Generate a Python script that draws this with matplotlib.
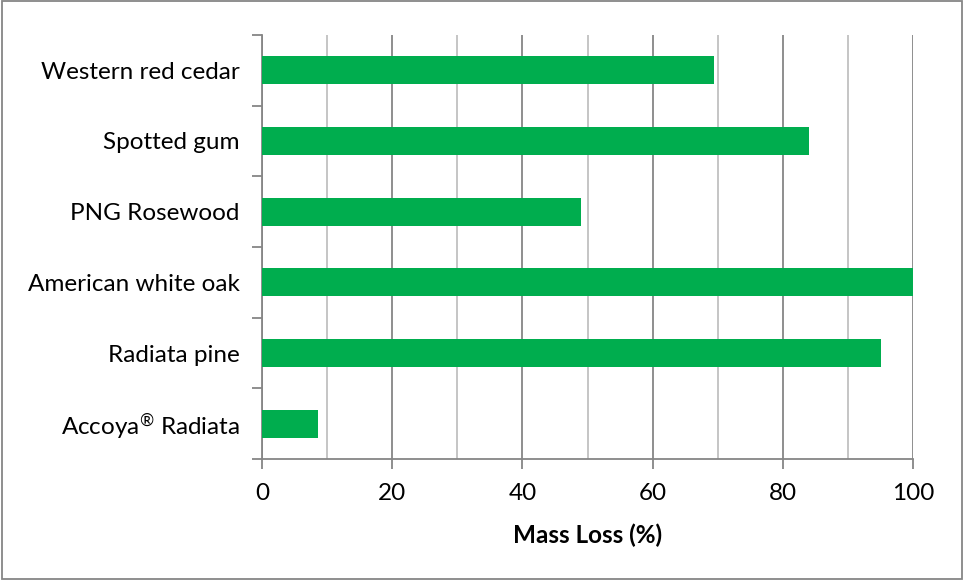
import matplotlib.pyplot as plt
from matplotlib.patches import Rectangle
from matplotlib.ticker import MultipleLocator

species = ["Western red cedar", "Spotted gum", "PNG Rosewood",
           "American white oak", "Radiata pine", "Accoya$^{\u00ae}$ Radiata"]
mass_loss = [69.4, 84.0, 49.0, 100.0, 95.1, 8.6]

plt.rcParams['font.family'] = ['Lato', 'DejaVu Sans']
plt.rcParams['mathtext.fontset'] = 'custom'
plt.rcParams['mathtext.rm'] = 'Lato'
plt.rcParams['mathtext.it'] = 'Lato'
plt.rcParams['mathtext.default'] = 'regular'

fig = plt.figure(figsize=(9.64, 5.8), dpi=100)
ax = fig.add_axes([0.2718, 0.2086, 0.6753, 0.7311])

pos = list(range(len(species)))[::-1]
ax.barh(pos, mass_loss, height=0.4, color="#00AD4E", zorder=3)

ax.set_xlim(0, 100)
ax.set_ylim(-0.5, len(species) - 0.5)
ax.xaxis.set_major_locator(MultipleLocator(20))
ax.xaxis.set_minor_locator(MultipleLocator(10))
ax.grid(axis='x', which='major', color="#868686", linewidth=1.3, zorder=0)
ax.grid(axis='x', which='minor', color="#C0C0C0", linewidth=1.3, zorder=0)

ax.set_yticks(pos)
ax.set_yticklabels(species, fontsize=17.5)
ax.set_yticks([p + 0.5 for p in range(len(species))] + [-0.5], minor=True)
ax.tick_params(axis='y', which='major', length=0, pad=16)
ax.tick_params(axis='y', which='minor', length=7, width=1.3, color="#868686")
ax.tick_params(axis='x', which='major', length=7, width=1.3, color="#868686",
               labelsize=17.5, pad=10)
ax.tick_params(axis='x', which='minor', length=0)

for side in ['top', 'right']:
    ax.spines[side].set_visible(False)
for side in ['left', 'bottom']:
    ax.spines[side].set_color("#868686")
    ax.spines[side].set_linewidth(1.3)

ax.set_xlabel("Mass Loss (%)", fontsize=17.5, fontweight='bold', labelpad=14)

fig.patches.append(Rectangle((0.002, 0.002), 0.996, 0.996, transform=fig.transFigure,
                             fill=False, edgecolor="#868686", linewidth=1.3))

fig.savefig("out.png", dpi=100)
